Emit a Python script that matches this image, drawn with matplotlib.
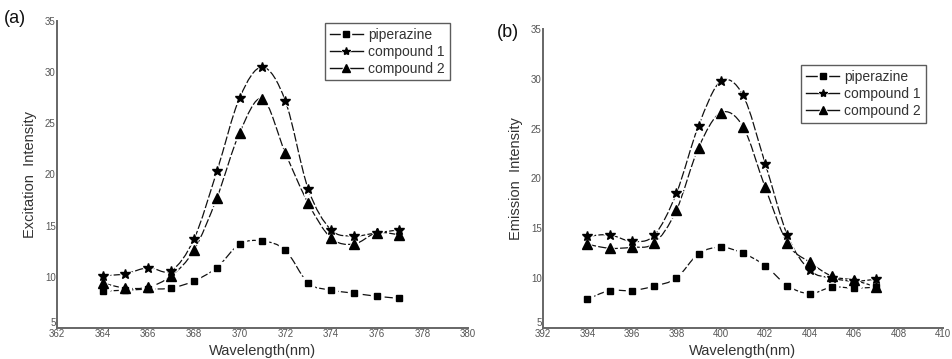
import matplotlib
matplotlib.use('Agg')

from matplotlib import pyplot as plt
from matplotlib.path import Path
from matplotlib.patches import PathPatch
from matplotlib.lines import Line2D
from matplotlib.legend_handler import HandlerTuple
from matplotlib.transforms import ScaledTranslation
import numpy as np

# excitation spectra (a)
wl_exc = [364, 365, 366, 367, 368, 369, 370, 371, 372, 373, 374, 375, 376, 377]
exc_pip = [8.6, 8.7, 8.8, 8.9, 9.6, 10.9, 13.2, 13.5, 12.6, 9.4, 8.7, 8.4, 8.1, 7.9]
exc_c1 = [10.1, 10.3, 10.9, 10.6, 13.7, 20.3, 27.5, 30.5, 27.2, 18.6, 14.6, 14.0, 14.3, 14.6]
exc_c2 = [9.4, 8.9, 9.0, 10.1, 12.6, 17.7, 24.1, 27.4, 22.1, 17.2, 13.8, 13.2, 14.3, 14.1]

# emission spectra (b)
wl_em = [394, 395, 396, 397, 398, 399, 400, 401, 402, 403, 404, 405, 406, 407]
em_pip = [7.9, 8.75, 8.75, 9.2, 10.0, 12.45, 13.1, 12.5, 11.25, 9.25, 8.45, 9.1, 9.0, 9.1]
em_c1 = [14.2, 14.35, 13.7, 14.3, 18.5, 25.3, 29.75, 28.35, 21.5, 14.3, 10.8, 10.0, 9.7, 9.9]
em_c2 = [13.4, 13.0, 13.1, 13.5, 16.8, 23.1, 26.6, 25.2, 19.1, 13.5, 11.6, 10.2, 9.8, 9.1]

names = ['piperazine', 'compound 1', 'compound 2']
markers = ['s', '*', '^']
msizes = [5, 7, 6.5]

GRAY = '#666666'
TXT = '#333333'
DASH = (7, 1.8)

plt.rcParams['font.family'] = ['Liberation Sans', 'DejaVu Sans']


def smooth_path(x, y):
    # Catmull-Rom curve through the points, drawn as cubic Bezier segments
    p = np.column_stack([x, y]).astype(float)
    n = len(p)
    verts = [p[0]]
    codes = [Path.MOVETO]
    for i in range(n - 1):
        p0 = p[i - 1] if i > 0 else p[i]
        p3 = p[i + 2] if i + 2 < n else p[i + 1]
        c1 = p[i] + (p[i + 1] - p0) / 6.0
        c2 = p[i + 1] - (p3 - p[i]) / 6.0
        verts += [c1, c2, p[i + 1]]
        codes += [Path.CURVE4] * 3
    return Path(verts, codes)


def draw_panel(fig, ax, x, series, xlim, ylabel, legend_loc):
    handles = []
    for ys, m, ms in zip(series, markers, msizes):
        patch = PathPatch(smooth_path(x, ys), fill=False, edgecolor='#111111',
                          linewidth=0.9, linestyle=(0, DASH))
        ax.add_patch(patch)
        ax.plot(x, ys, linestyle='none', marker=m, ms=ms + 4, color='white', zorder=3)
        ax.plot(x, ys, linestyle='none', marker=m, ms=ms, color='black', zorder=4)
        ln = Line2D([0, 1], [0, 0], color='#111111', linewidth=1.0)
        halo = Line2D([0.5], [0], linestyle='none', marker=m, ms=ms + 2.5, color='white')
        mk = Line2D([0.5], [0], linestyle='none', marker=m, ms=ms - 1, color='black')
        handles.append((ln, halo, mk))

    ax.set_xlim(*xlim)
    ax.set_ylim(5, 35)
    ax.set_xticks(np.arange(xlim[0], xlim[1] + 1, 2))
    ax.set_yticks(np.arange(5, 36, 5))
    for loc, spine in ax.spines.items():
        if loc in ['right', 'top']:
            spine.set_color('none')
        else:
            spine.set_color(GRAY)
            spine.set_linewidth(1.4)
    ax.tick_params(length=0, labelsize=7, labelcolor='#555555', pad=1)
    ax.set_xlabel('Wavelength(nm)', fontsize=10.5, color=TXT, labelpad=3)
    ax.set_ylabel(ylabel, fontsize=10.5, color=TXT, labelpad=6)

    # lift the bottom "5" a little so it sits just above the first x label
    lbl = ax.get_yticklabels()[0]
    lbl.set_transform(lbl.get_transform() + ScaledTranslation(0, 4 / 72, fig.dpi_scale_trans))

    leg = ax.legend(handles, names,
                    handler_map={tuple: HandlerTuple(ndivide=1, pad=0)},
                    loc='upper left', bbox_to_anchor=legend_loc, fontsize=10,
                    frameon=True, fancybox=False, handlelength=2.4,
                    handletextpad=0.35, borderpad=0.35, labelspacing=0.2,
                    borderaxespad=0, numpoints=1)
    leg.get_frame().set_edgecolor('#333333')
    leg.get_frame().set_linewidth(1.0)
    for t in leg.get_texts():
        t.set_color(TXT)


fig = plt.figure(figsize=(9.53, 3.59), dpi=100)
ax1 = fig.add_axes([57 / 953, 1 - 328 / 359, 411 / 953, 307 / 359])
ax2 = fig.add_axes([543 / 953, 1 - 328 / 359, 400 / 953, 299 / 359])

draw_panel(fig, ax1, wl_exc, [exc_pip, exc_c1, exc_c2], (362, 380),
           'Excitation  Intensity', (0.652, 0.993))
draw_panel(fig, ax2, wl_em, [em_pip, em_c1, em_c2], (392, 410),
           'Emission  Intensity', (0.645, 0.878))

fig.text(4 / 953, 1 - 23 / 359, '(a)', fontsize=13, color='#111111', va='baseline')
fig.text(497 / 953, 1 - 37 / 359, '(b)', fontsize=13, color='#111111', va='baseline')

fig.savefig('out.png', dpi=100)
